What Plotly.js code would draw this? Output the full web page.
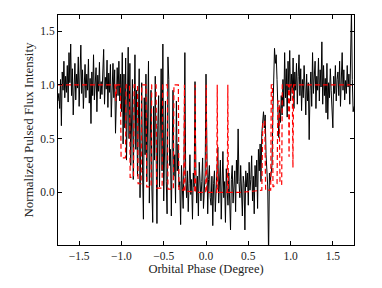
<!DOCTYPE html>
<html>
<head>
<meta charset="utf-8">
<script src="https://cdn.plot.ly/plotly-3.0.1.min.js"></script>
<style>
html,body{margin:0;padding:0;background:#fff;}
#chart{width:382px;height:288px;}
</style>
</head>
<body>
<div id="chart"></div>
<script>
// Observed normalized pulsed flux, sampled every 0.01 deg from -1.75 deg
var fluxPreIngress = [
  0.85, 0.92, 0.78, 1.05, 0.62, 1.12, 0.95, 1.22, 0.88, 1.08,
  0.93, 1.18, 0.84, 1.30, 1.02, 1.38, 0.90, 1.15, 0.72, 1.05,
  1.20, 0.86, 1.10, 0.97, 1.26, 0.80, 1.08, 1.37, 0.92, 1.14,
  0.78, 1.02, 1.19, 0.88, 1.10, 0.95, 1.24, 0.83, 1.06, 0.64,
  1.12, 0.90, 1.28, 0.86, 1.04, 1.16, 0.75, 1.09, 0.94, 1.21,
  0.87, 1.03, 0.91, 1.18, 1.33, 0.82, 1.07, 0.96, 1.23, 0.79,
  1.11, 0.93, 1.19, 0.70, 1.05, 1.20, 0.88, 1.14, 0.55, 0.98,
  1.16, 0.90, 1.22, 0.85, 1.10
];
var fluxIngress = [
  0.75, 1.30, 0.45, 1.10, 0.60, 1.25, 0.30, 0.95, 1.35, 0.50,
  1.20, 0.25, 0.90, 1.05, 0.12, 0.85, 1.28, 0.40, 0.95, 0.15,
  0.78, 1.15, -0.05, 0.65, 1.02, 0.20, -0.25, 0.88, 0.35, 1.10,
  0.10, 0.70, 1.22, -0.10, 0.55, 0.95, 0.05, -0.28, 0.80, 0.30,
  1.08, 0.15, -0.29, 0.62, 0.90, 0.05, 0.45, 1.15, 0.20, 1.38,
  -0.08, 0.55, 0.85, 0.10, -0.20, 1.26, 1.05, 0.25, 0.40, -0.22,
  0.60, 0.95, 0.15, 0.35, -0.10, 0.85, 0.20, 0.45, 0.05
];
var fluxEclipse = [
  0.10, -0.30, 0.25, 0.05, -0.15, 0.30, 1.30, 0.15, -0.05, 0.20,
  -0.18, 0.08, 0.35, -0.02, 0.12, -0.25, 0.18, 0.05, 1.03, 0.22,
  -0.10, 0.15, -0.22, 0.28, 0.02, -0.08, 0.10, 0.32, -0.15, 0.06,
  0.18, 1.10, 0.05, -0.20, 0.12, 0.25, -0.05, -0.12, 0.15, -0.31,
  0.08, 0.20, -0.18, 0.02, 0.12, 0.42, -0.10, 0.05, 0.30, -0.25,
  0.15, 0.38, -0.05, 0.10, -0.28, 0.22, 0.02, -0.12, 0.18, -0.02,
  -0.35, 0.12, 0.25, -0.10, 0.05, 0.20, -0.18, 0.30, 0.08, 0.59,
  0.10, -0.05, 0.25, 0.02, -0.22, 0.15, 0.08, -0.35, 0.20, 0.05,
  0.18, -0.12, 0.28, 0.02, 0.12, 0.34, -0.08, 0.15, -0.20, 0.25,
  0.05, 0.30, -0.15, 0.40
];
var fluxEgress = [
  0.20, 0.45, 0.10, 0.55, 0.67, 0.75, 0.60, 0.72, 0.35, 0.15,
  0.05, -0.60, 0.18, 0.10, 0.16, 0.25, 0.70, 1.10, 1.34, 1.20,
  1.28, 1.05, 0.85, 0.51, 0.80, 0.65, 0.90, 0.72, 1.05, 0.80,
  1.30, 0.88, 1.15, 0.70, 1.22, 0.95, 1.32, 0.85, 1.10, 0.92,
  1.25, 0.78, 1.12
];
var fluxPostEgress = [
  0.95, 1.20, 0.82, 1.08, 1.28, 0.90, 1.15, 0.76, 1.05, 0.88,
  1.18, 0.98, 0.72, 1.10, 0.85, 1.02, 0.49, 0.95, 1.12, 0.80,
  1.30, 0.92, 1.05, 1.22, 0.78, 1.08, 0.95, 1.25, 0.85, 1.14,
  0.98, 1.40, 0.82, 1.18, 0.90, 1.06, 0.74, 1.20, 0.68, 1.02,
  0.88, 1.15, 0.95, 0.72, 0.60, 1.08, 0.92, 1.18, 0.85, 1.05,
  1.12, 0.90, 1.22, 0.80, 1.08, 1.30, 0.95, 1.14, 0.86, 1.04,
  0.92, 1.18, 0.98, 1.10, 0.82, 1.20, 1.70, 1.05, 0.75, 0.80
];
var phaseStart = -1.75;
var phaseStep = 0.01;

// Model (red dashed) vertices
var modelPhase = [
  -1.75, -1.075, -1.066, -1.057, -1.012, -1.004, -0.952, -0.945,
  -0.904, -0.897, -0.857, -0.850, -0.810, -0.803, -0.767, -0.760,
  -0.708, -0.701, -0.649, -0.642, -0.590, -0.583, -0.519, -0.512,
  -0.457, -0.450, -0.386, -0.379, -0.327, -0.320, -0.262, -0.255,
  -0.248, -0.134, -0.128, -0.122, -0.003, 0.003, 0.009, 0.127,
  0.133, 0.139, 0.252, 0.258, 0.264, 0.40, 0.55, 0.62,
  0.660, 0.672, 0.695, 0.705, 0.765, 0.772, 0.785, 0.792,
  0.840, 0.850, 0.865, 0.875, 0.895, 0.902, 0.975, 0.982,
  0.990, 1.020, 1.028, 1.036, 1.75
];
var modelFlux = [
  1.0, 1.0, 0.85, 1.0, 1.0, 0.32, 0.32, 1.0,
  1.0, 0.14, 0.14, 1.0, 1.0, 0.08, 0.08, 1.0,
  1.0, 0.05, 0.05, 1.0, 1.0, 0.04, 0.04, 1.0,
  1.0, 0.03, 0.03, 1.0, 1.0, 0.02, 0.02, 1.0,
  0.01, 0.005, 1.0, 0.0, 0.0, 1.0, 0.0, 0.0,
  1.0, 0.0, 0.0, 1.0, 0.0, 0.0, 0.01, 0.02,
  0.02, 0.66, 0.66, 0.02, 0.02, 1.0, 1.0, 0.05,
  0.08, 0.85, 0.85, 0.10, 0.07, 1.0, 1.0, 0.33,
  1.0, 1.0, 0.23, 1.0, 1.0
];

var xTicks = [-1.5, -1.0, -0.5, 0.0, 0.5, 1.0, 1.5];
var xTickText = ["\u22121.5", "\u22121.0", "\u22120.5", "0.0", "0.5", "1.0", "1.5"];
var yTicks = [0.0, 0.5, 1.0, 1.5];
var yTickText = ["0.0", "0.5", "1.0", "1.5"];

var flux = fluxPreIngress.concat(fluxIngress, fluxEclipse, fluxEgress, fluxPostEgress);

var serif = "'Liberation Serif', 'DejaVu Serif', serif";

var traces = [
  {
    type: "scatter", mode: "lines",
    x0: phaseStart, dx: phaseStep, y: flux,
    line: {color: "#000000", width: 1},
    hoverinfo: "skip", showlegend: false
  },
  {
    type: "scatter", mode: "lines",
    x: modelPhase, y: modelFlux,
    line: {color: "#ff0000", width: 1.2, dash: "5px,3px"},
    hoverinfo: "skip", showlegend: false
  }
];

var axisCommon = {
  showgrid: false, zeroline: false,
  showline: true, linecolor: "#000", linewidth: 1, mirror: "allticks",
  ticks: "inside", ticklen: 4, tickwidth: 1, tickcolor: "#000",
  tickfont: {family: serif, size: 11.5, color: "#222"}
};

var layout = {
  width: 382, height: 288,
  margin: {l: 58, r: 28, t: 15, b: 43, pad: 0},
  paper_bgcolor: "#fff", plot_bgcolor: "#fff",
  font: {family: serif, color: "#222"},
  xaxis: Object.assign({}, axisCommon, {
    range: [-1.75, 1.75],
    tickmode: "array", tickvals: xTicks, ticktext: xTickText,
    title: {text: "Orbital Phase (Degree)", font: {family: serif, size: 12.5, color: "#222"}, standoff: 3}
  }),
  yaxis: Object.assign({}, axisCommon, {
    range: [-0.49, 1.65],
    tickmode: "array", tickvals: yTicks, ticktext: yTickText,
    title: {text: "Normalized Pulsed Flux Intensity", font: {family: serif, size: 13, color: "#222"}, standoff: 3}
  })
};

Plotly.newPlot("chart", traces, layout, {staticPlot: true, displayModeBar: false});
</script>
</body>
</html>
